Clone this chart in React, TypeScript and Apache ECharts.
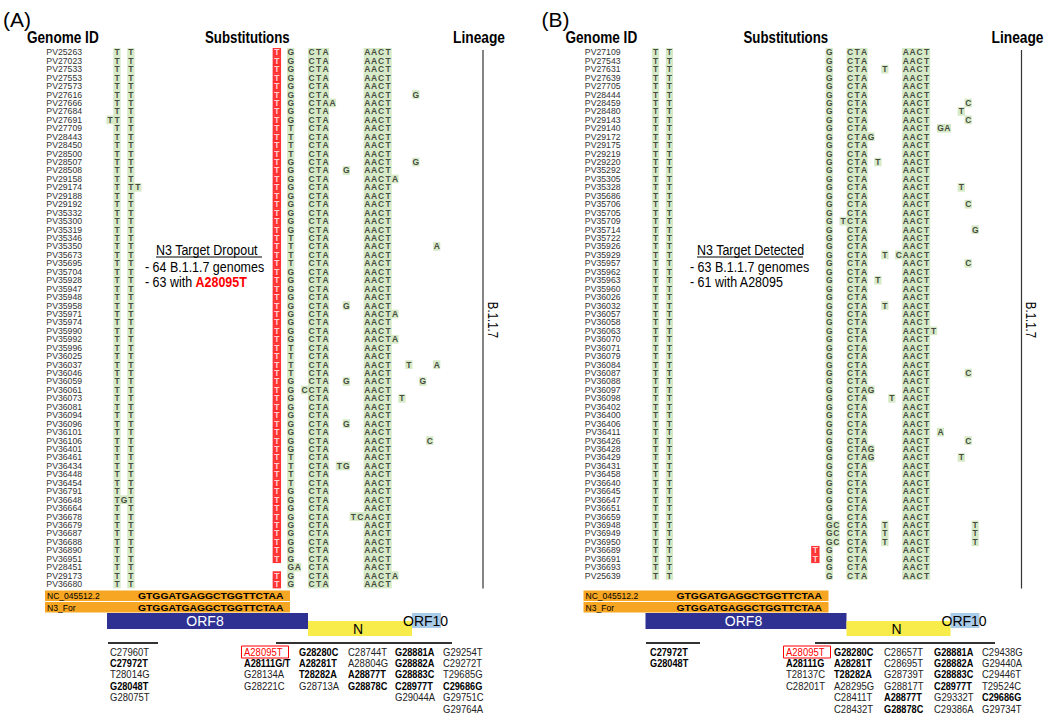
import React, { useEffect, useRef } from "react";
import * as echarts from "echarts";

const FONT = "'Liberation Sans', Arial, Helvetica, sans-serif";
const GREEN = "#cde5b9";
const RED = "#ff0000";

// ---------- Panel A ----------
const idsA = ["PV25263","PV27023","PV27533","PV27553","PV27573","PV27616","PV27666","PV27684","PV27691","PV27709","PV28443","PV28450","PV28500","PV28507","PV28508","PV29158","PV29174","PV29188","PV29192","PV35332","PV35300","PV35319","PV35346","PV35350","PV35673","PV35695","PV35704","PV35928","PV35947","PV35948","PV35958","PV35971","PV35974","PV35990","PV35992","PV35996","PV36025","PV36037","PV36046","PV36059","PV36061","PV36073","PV36081","PV36094","PV36096","PV36101","PV36106","PV36401","PV36461","PV36434","PV36448","PV36454","PV36791","PV36648","PV36664","PV36678","PV36679","PV36687","PV36688","PV36890","PV36951","PV28451","PV29173","PV36680"];

// ---------- Panel B ----------
const idsB = ["PV27109","PV27543","PV27631","PV27639","PV27705","PV28444","PV28459","PV28480","PV29143","PV29140","PV29172","PV29175","PV29219","PV29220","PV35292","PV35305","PV35328","PV35686","PV35706","PV35705","PV35709","PV35714","PV35722","PV35926","PV35929","PV35957","PV35962","PV35963","PV35960","PV36026","PV36032","PV36057","PV36058","PV36063","PV36070","PV36071","PV36079","PV36084","PV36087","PV36088","PV36097","PV36098","PV36402","PV36400","PV36406","PV36411","PV36426","PV36428","PV36429","PV36431","PV36458","PV36640","PV36645","PV36647","PV36651","PV36659","PV36948","PV36949","PV36950","PV36689","PV36691","PV36693","PV25639"];

// alignment columns shared by every genome: [column, base]
const sharedSites: [number, string][] = [[1,"T"],[3,"T"],[29,"C"],[30,"T"],[31,"A"],[37,"A"],[38,"A"],[39,"C"],[40,"T"]];

// column 26 base, as [fromRow, toRow, base] (1-based rows)
const site26A: [number, number, string][] = [[1,9,"G"],[10,13,"T"],[14,22,"G"],[23,26,"T"],[27,35,"G"],[36,39,"T"],[40,48,"G"],[49,52,"T"],[53,64,"G"]];
const site26B: [number, number, string][] = [[1,63,"G"]];

// A28095T (red) rows, as ranges
const redRangesA: [number, number][] = [[1,61],[63,64]];
const redRangesB: [number, number][] = [[60,61]];
const RED_COL = 24;

// extra substitutions: [row, column, base]
const extrasA: [number, number, string][] = [
  [9,0,"T"],[17,4,"T"],[54,2,"G"],
  [6,44,"G"],[7,32,"A"],[14,44,"G"],[15,34,"G"],[16,41,"A"],[24,47,"A"],
  [31,34,"G"],[32,41,"A"],[35,41,"A"],[38,43,"T"],[38,47,"A"],[40,34,"G"],[40,45,"G"],
  [41,28,"C"],[42,42,"T"],[45,34,"G"],[47,46,"C"],[50,33,"T"],[50,34,"G"],
  [56,35,"T"],[56,36,"C"],[62,27,"A"],[63,41,"A"]
];
const extrasB: [number, number, string][] = [
  [3,34,"T"],[7,46,"C"],[8,45,"T"],[9,46,"C"],[10,42,"G"],[10,43,"A"],[11,32,"G"],
  [14,33,"T"],[17,45,"T"],[19,46,"C"],[21,28,"T"],[22,47,"G"],[25,34,"T"],[25,36,"C"],
  [26,46,"C"],[28,33,"T"],[31,34,"T"],[34,41,"T"],[39,46,"C"],[41,32,"G"],[42,35,"T"],
  [46,42,"A"],[47,46,"C"],[48,32,"G"],[49,32,"G"],[49,45,"T"],
  [57,27,"C"],[57,34,"T"],[57,47,"T"],[58,27,"C"],[58,34,"T"],[58,47,"T"],
  [59,27,"C"],[59,34,"T"],[59,47,"T"]
];

// mutation lists under the gene map ("*" = bold, "!" = boxed red)
const mutA: string[][] = [
  ["C27960T","*C27972T","T28014G","*G28048T","G28075T"],
  ["!A28095T","*A28111G/T","G28134A","G28221C"],
  ["*G28280C","*A28281T","*T28282A","G28713A"],
  ["C28744T","A28804G","*A28877T","*G28878C"],
  ["*G28881A","*G28882A","*G28883C","*C28977T","G29044A"],
  ["G29254T","C29272T","T29685G","*C29686G","G29751C","G29764A"],
];
const mutB: string[][] = [
  ["*C27972T","*G28048T"],
  ["!A28095T","*A28111G","T28137C","C28201T"],
  ["*G28280C","*A28281T","*T28282A","A28295G","C28411T","C28432T"],
  ["C28657T","C28695T","G28739T","G28817T","*A28877T","*G28878C"],
  ["*G28881A","*G28882A","*G28883C","*C28977T","G29332T","C29386A"],
  ["C29438G","G29440A","C29446T","T29524C","*C29686G","G29734T"],
];

const refName = "NC_045512.2";
const primerName = "N3_For";
const refSeq = "GTGGATGAGGCTGGTTCTAA";
const primerSeq = "GTGGATGAGGCTGGTTCTAA";

function buildCells(n: number, s26: [number, number, string][], reds: [number, number][], extras: [number, number, string][]) {
  const out: any[] = [];
  const push = (col: number, row: number, ch: string, red: boolean) => {
    out.push({
      value: [col, row],
      name: ch,
      symbolSize: red ? [8.4, 8.7] : [7.3, 8.7],
      itemStyle: { color: red ? RED : GREEN },
      label: { color: red ? "#ffffff" : "#1c1c1c" },
    });
  };
  for (let r = 0; r < n; r++) for (const [c, ch] of sharedSites) push(c, r, ch, false);
  for (const [a, b, ch] of s26) for (let r = a; r <= b; r++) push(26, r - 1, ch, false);
  for (const [a, b] of reds) for (let r = a; r <= b; r++) push(RED_COL, r - 1, "T", true);
  for (const [r, c, ch] of extras) push(c, r - 1, ch, false);
  return out;
}

function txt(x: number, y: number, text: string, o: any = {}) {
  return {
    type: "text", x, y, scaleX: o.scaleX ?? 1, rotation: o.rotation ?? 0, silent: true,
    style: {
      text, fill: o.color ?? "#000", fontSize: o.size ?? 10, fontWeight: o.weight ?? "normal",
      fontFamily: FONT, textAlign: o.align ?? "left", textVerticalAlign: "middle", rich: o.rich,
    },
  };
}
function rect(x: number, y: number, w: number, h: number, fill: string, stroke?: string) {
  return { type: "rect", silent: true, shape: { x, y, width: w, height: h },
    style: { fill, stroke: stroke ?? null, lineWidth: stroke ? 1 : 0 } };
}
function line(x1: number, y1: number, x2: number, y2: number, w = 1, c = "#222") {
  return { type: "line", silent: true, shape: { x1, y1, x2, y2 }, style: { stroke: c, lineWidth: w } };
}

function panelGraphics(dx: number, label: string, title: string, l2: string, l3: string, rich3: boolean, muts: string[][], shortLine: [number, number], longLine: [number, number], annoX: [number, number]) {
  const g: any[] = [];
  g.push(txt(3 + dx, 19, label, { size: 21 }));
  g.push(txt(27 + dx, 37, "Genome ID", { size: 17, weight: "bold", scaleX: 0.8 }));
  g.push(txt(205 + dx, 37, "Substitutions", { size: 17, weight: "bold", scaleX: 0.78 }));
  g.push(txt(453 + dx, 37, "Lineage", { size: 17, weight: "bold", scaleX: 0.81 }));
  // lineage bar
  g.push(line(483 + dx, 50, 483 + dx, 588.5, 1.2, "#333"));
  g.push(txt(492.5 + dx, 320, "B.1.1.7", { size: 14, align: "center", rotation: -Math.PI / 2, scaleX: 0.82 }));
  // annotation
  g.push(txt(annoX[0], 250.5, title, { size: 14, scaleX: 0.89 }));
  g.push(line(annoX[0], 257, annoX[0] + 106, 257, 1, "#000"));
  g.push(txt(annoX[1], 267, l2, { size: 14, scaleX: 0.89 }));
  g.push(txt(annoX[1], 282.5, l3, rich3 ? { size: 14, scaleX: 0.89, rich: { r: { fill: RED, color: RED, fontWeight: "bold", fontSize: 14, fontFamily: FONT } } } : { size: 14, scaleX: 0.89 }));
  // sequence bars
  g.push(rect(45 + dx, 590.5, 245, 10.5, "#f6a623"));
  g.push(rect(45 + dx, 602, 245, 10.5, "#f6a623"));
  g.push(txt(47 + dx, 596, refName, { size: 9, scaleX: 0.95 }));
  g.push(txt(47 + dx, 607.5, primerName, { size: 9, scaleX: 0.95 }));
  g.push(txt(138 + dx, 596, refSeq, { size: 9, weight: "bold", scaleX: 1.15 }));
  g.push(txt(138 + dx, 607.5, primerSeq, { size: 9, weight: "bold", scaleX: 1.15 }));
  // gene map
  g.push(rect(107 + dx, 613, 201, 16, "#2e3192"));
  g.push(rect(308 + dx, 621, 104, 15, "#f8ec4b"));
  g.push(rect(412 + dx, 613, 29, 15, "#a9cbe8"));
  g.push(txt(205 + dx, 621, "ORF8", { size: 14, color: "#fff", align: "center" }));
  g.push(txt(358 + dx, 629, "N", { size: 14, align: "center" }));
  g.push(txt(403 + dx, 620.5, "ORF10", { size: 14 }));
  // lines over mutation lists
  g.push(line(shortLine[0], 643, shortLine[1], 643, 2, "#333"));
  g.push(line(longLine[0], 643, longLine[1], 643, 2, "#333"));
  return g;
}

function mutGraphics(cols: number[], muts: string[][]) {
  const g: any[] = [];
  muts.forEach((list, ci) => {
    list.forEach((m, ri) => {
      const y = 652 + ri * 11.4;
      const x = cols[ci];
      if (m.startsWith("!")) {
        g.push(rect(x - 2.5, y - 6, 47, 12, "none", RED));
        g.push(txt(x, y, m.slice(1), { size: 10, color: RED, scaleX: 0.95 }));
      } else if (m.startsWith("*")) {
        g.push(txt(x, y, m.slice(1), { size: 10, weight: "bold", scaleX: 0.92 }));
      } else {
        g.push(txt(x, y, m, { size: 10, color: "#222", scaleX: 0.95 }));
      }
    });
  });
  return g;
}

export default function App() {
  const ref = useRef<HTMLDivElement>(null);
  useEffect(() => {
    document.body.style.margin = "0";
    const chart = echarts.init(ref.current!, null, { renderer: "svg" });
    const cellsA = buildCells(idsA.length, site26A, redRangesA, extrasA);
    const cellsB = buildCells(idsB.length, site26B, redRangesB, extrasB);
    const PITCH = 8.44;
    const yAxisBase = (data: string[], gi: number) => ({
      gridIndex: gi, type: "category", data, inverse: true,
      axisLine: { show: false }, axisTick: { show: false }, splitLine: { show: false },
      axisLabel: { interval: 0, fontSize: 8.7, color: "#333", margin: 21, fontFamily: FONT },
    });
    const xAxisBase = (gi: number) => ({ gridIndex: gi, type: "value", min: -1, max: 49, show: false });
    const seriesBase = (gi: number, data: any[]) => ({
      type: "scatter", xAxisIndex: gi, yAxisIndex: gi, symbol: "rect", silent: true, data,
      label: { show: true, position: "inside", formatter: "{b}", fontSize: 8.5, fontWeight: "bold", fontFamily: FONT },
      emphasis: { disabled: true },
    });
    const graphics = [
      ...panelGraphics(0, "(A)", "N3 Target Dropout", "- 64 B.1.1.7 genomes", "- 63 with {r|A28095T}", true, mutA, [108, 158], [276, 452], [156, 145]),
      ...panelGraphics(538.5, "(B)", "N3 Target Detected", "- 63 B.1.1.7 genomes", "- 61 with A28095", false, mutB, [646, 700], [815, 995], [697, 690]),
      ...mutGraphics([110, 244, 299, 348, 395, 443], mutA),
      ...mutGraphics([650, 786, 834, 884, 934, 982], mutB),
    ];
    chart.setOption({
      animation: false,
      backgroundColor: "#ffffff",
      grid: [
        { left: 103.1, top: 48.1, width: 347.5, height: PITCH * idsA.length },
        { left: 641.6, top: 48.1, width: 347.5, height: PITCH * idsB.length },
      ],
      xAxis: [xAxisBase(0), xAxisBase(1)],
      yAxis: [yAxisBase(idsA, 0), yAxisBase(idsB, 1)],
      series: [seriesBase(0, cellsA), seriesBase(1, cellsB)],
      graphic: { elements: graphics },
    });
    return () => chart.dispose();
  }, []);
  return <div ref={ref} style={{ position: "fixed", left: 0, top: 0, width: 1050, height: 716, background: "#fff" }} />;
}
